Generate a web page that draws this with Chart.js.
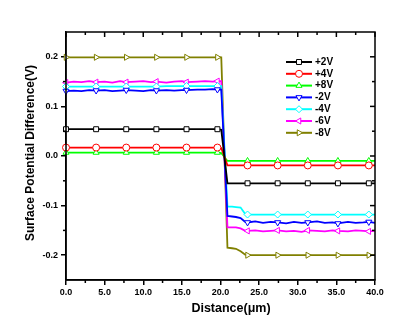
<!DOCTYPE html>
<html>
<head>
<meta charset="utf-8">
<script src="https://cdn.jsdelivr.net/npm/chart.js@4/dist/chart.umd.min.js"></script>
<style>
  body { margin: 0; background: #fff; }
  #wrap { width: 397px; height: 323px; }
</style>
</head>
<body>
<div id="wrap"><canvas id="myChart" width="397" height="323"></canvas></div>
<script>
// data
let distance = [0, 1, 2, 3, 3.9, 5, 6, 7, 7.8, 9, 10, 11, 11.7, 13, 14, 15, 15.6, 17, 18, 19, 19.6,
  20.1, 20.9, 21.5, 22.0, 22.6, 23.2, 23.5,
  24.5, 25.5, 26.5, 27.4, 28.5, 29.5, 30.5, 31.3, 32.5, 33.5, 34.5, 35.2, 36.5, 37.5, 38.5, 39.2, 40];
let markerAt = [0, 3.9, 7.8, 11.7, 15.6, 19.6, 23.5, 27.4, 31.3, 35.2, 39.2];

let plus2V = [0.054, 0.054, 0.054, 0.054, 0.054, 0.054, 0.054, 0.054, 0.054, 0.054, 0.054, 0.054, 0.054, 0.054, 0.054, 0.054, 0.054, 0.054, 0.054, 0.054, 0.054,
  0.053, -0.055, -0.055, -0.055, -0.055, -0.055, -0.055,
  -0.055, -0.055, -0.055, -0.055, -0.055, -0.055, -0.055, -0.055, -0.055, -0.055, -0.055, -0.055, -0.055, -0.055, -0.055, -0.055, -0.055];
let plus4V = [0.017, 0.017, 0.017, 0.017, 0.017, 0.017, 0.017, 0.017, 0.017, 0.017, 0.017, 0.017, 0.017, 0.017, 0.017, 0.017, 0.017, 0.017, 0.017, 0.017, 0.017,
  0.016, -0.019, -0.019, -0.019, -0.019, -0.019, -0.019,
  -0.019, -0.019, -0.019, -0.019, -0.019, -0.019, -0.019, -0.019, -0.019, -0.019, -0.019, -0.019, -0.019, -0.019, -0.019, -0.019, -0.019];
let plus8V = [0.007, 0.007, 0.007, 0.007, 0.007, 0.007, 0.007, 0.007, 0.007, 0.007, 0.007, 0.007, 0.007, 0.007, 0.007, 0.007, 0.007, 0.007, 0.007, 0.007, 0.007,
  0.006, -0.010, -0.010, -0.010, -0.010, -0.010, -0.010,
  -0.010, -0.010, -0.010, -0.010, -0.010, -0.010, -0.010, -0.010, -0.010, -0.010, -0.010, -0.010, -0.010, -0.010, -0.010, -0.010, -0.010];
let minus2V = [0.131, 0.132, 0.131, 0.133, 0.132, 0.133, 0.131, 0.132, 0.133, 0.132, 0.131, 0.133, 0.132, 0.133, 0.132, 0.133, 0.133, 0.134, 0.134, 0.135, 0.134,
  0.134, -0.121, -0.122, -0.123, -0.125, -0.133, -0.134,
  -0.132, -0.135, -0.133, -0.134, -0.136, -0.133, -0.135, -0.134, -0.132, -0.135, -0.134, -0.136, -0.133, -0.135, -0.134, -0.133, -0.135];
let minus4V = [0.140, 0.140, 0.140, 0.140, 0.140, 0.140, 0.140, 0.140, 0.140, 0.140, 0.140, 0.140, 0.140, 0.141, 0.141, 0.141, 0.141, 0.141, 0.141, 0.141, 0.141,
  0.141, -0.102, -0.102, -0.103, -0.104, -0.117, -0.118,
  -0.118, -0.118, -0.118, -0.118, -0.118, -0.118, -0.118, -0.118, -0.118, -0.118, -0.118, -0.118, -0.118, -0.118, -0.118, -0.118, -0.118];
let minus6V = [0.148, 0.150, 0.149, 0.151, 0.149, 0.150, 0.148, 0.151, 0.149, 0.150, 0.151, 0.149, 0.150, 0.148, 0.150, 0.151, 0.149, 0.150, 0.151, 0.150, 0.151,
  0.151, -0.144, -0.144, -0.144, -0.146, -0.151, -0.151,
  -0.150, -0.152, -0.151, -0.150, -0.152, -0.151, -0.153, -0.150, -0.151, -0.152, -0.150, -0.151, -0.152, -0.150, -0.151, -0.152, -0.151];
let minus8V = [0.199, 0.199, 0.199, 0.199, 0.199, 0.199, 0.199, 0.199, 0.199, 0.199, 0.199, 0.199, 0.199, 0.199, 0.199, 0.199, 0.199, 0.199, 0.199, 0.199, 0.199,
  0.199, -0.185, -0.186, -0.187, -0.192, -0.199, -0.200,
  -0.200, -0.200, -0.200, -0.200, -0.200, -0.200, -0.200, -0.200, -0.200, -0.200, -0.200, -0.200, -0.200, -0.200, -0.200, -0.200, -0.200];

let seriesNames = ["+2V", "+4V", "+8V", "-2V", "-4V", "-6V", "-8V"];
let seriesValues = [plus2V, plus4V, plus8V, minus2V, minus4V, minus6V, minus8V];
let xTicks = [0, 5, 10, 15, 20, 25, 30, 35, 40];
let yTicks = [-0.2, -0.1, 0.0, 0.1, 0.2];
let xTitulo = "Distance(\u03bcm)";
let yTitulo = "Surface Potential Difference(V)";

let colores = ["#000000", "#ff0000", "#00ff00", "#0000ff", "#00ffff", "#ff00ff", "#808000"];
let estilos = [
  { style: "rect", rot: 0 },
  { style: "circle", rot: 0 },
  { style: "triangle", rot: 0 },
  { style: "triangle", rot: 180 },
  { style: "rectRot", rot: 0 },
  { style: "triangle", rot: -90 },
  { style: "triangle", rot: 90 }
];

const FONT = "'Liberation Sans', Arial, sans-serif";

function dibujaMarcas(ctx, scale, values, len, side) {
  const a = scale.chart.chartArea;
  values.forEach((v) => {
    const p = scale.getPixelForValue(v);
    ctx.beginPath();
    if (side == "top") { ctx.moveTo(p, a.top); ctx.lineTo(p, a.top + len); }
    if (side == "bottom") { ctx.moveTo(p, a.bottom); ctx.lineTo(p, a.bottom + len); }
    if (side == "left") { ctx.moveTo(a.left, p); ctx.lineTo(a.left - len, p); }
    if (side == "right") { ctx.moveTo(a.right, p); ctx.lineTo(a.right - len, p); }
    ctx.stroke();
  });
}

// frame, mirrored ticks, minor ticks, axis titles and the legend box
const marco = {
  id: "marco",
  afterDraw(chart) {
    const ctx = chart.ctx;
    const a = chart.chartArea;
    const xs = chart.scales.x, ys = chart.scales.y;
    ctx.save();
    ctx.strokeStyle = "#000";
    ctx.lineWidth = 1.5;
    ctx.strokeRect(a.left, a.top, a.right - a.left, a.bottom - a.top);
    let xMinor = [2.5, 7.5, 12.5, 17.5, 22.5, 27.5, 32.5, 37.5];
    let yMinor = [-0.15, -0.05, 0.05, 0.15];
    dibujaMarcas(ctx, xs, xTicks, 5, "top");
    dibujaMarcas(ctx, xs, xMinor, 3, "top");
    dibujaMarcas(ctx, xs, xMinor, 3, "bottom");
    dibujaMarcas(ctx, ys, yTicks, 5, "right");
    dibujaMarcas(ctx, ys, yMinor, 3, "right");
    dibujaMarcas(ctx, ys, yMinor, 3, "left");

    // axis titles
    ctx.fillStyle = "#000";
    ctx.textAlign = "center";
    ctx.textBaseline = "middle";
    ctx.font = "bold 12.5px " + FONT;
    ctx.fillText(xTitulo, 231, 309);
    ctx.save();
    ctx.translate(31, 153);
    ctx.rotate(-Math.PI / 2);
    ctx.font = "bold 12px " + FONT;
    ctx.fillText(yTitulo, 0, 0);
    ctx.restore();

    // legend
    ctx.textAlign = "left";
    chart.data.datasets.forEach((ds, i) => {
      const y = 62 + i * 11.8;
      ctx.strokeStyle = ds.borderColor;
      ctx.lineWidth = 2;
      ctx.beginPath();
      ctx.moveTo(286, y);
      ctx.lineTo(312, y);
      ctx.stroke();
      ctx.fillStyle = "#fff";
      ctx.lineWidth = 1;
      Chart.helpers.drawPoint(ctx, { pointStyle: estilos[i].style, rotation: estilos[i].rot, radius: 3.5, borderWidth: 1 }, 299, y);
      ctx.fillStyle = "#000";
      ctx.font = "bold 10px " + FONT;
      ctx.fillText(ds.label, 315, y);
    });
    ctx.restore();
  }
};

const datasets = seriesNames.map((nombre, i) => ({
  label: nombre,
  data: distance.map((d, j) => ({ x: d, y: seriesValues[i][j] })),
  borderColor: colores[i],
  backgroundColor: "#ffffff",
  borderWidth: 1.8,
  pointStyle: estilos[i].style,
  rotation: estilos[i].rot,
  pointRadius: (c) => markerAt.includes(distance[c.dataIndex]) ? 3.5 : 0,
  pointBorderWidth: 1,
  pointBackgroundColor: "#ffffff",
  pointBorderColor: colores[i],
  tension: 0,
  clip: false
}));

const config = {
  type: "line",
  data: { datasets },
  plugins: [marco],
  options: {
    responsive: false,
    animation: false,
    layout: { padding: { top: 32, right: 22, left: 0, bottom: 0 } },
    plugins: { legend: { display: false }, tooltip: { enabled: false } },
    scales: {
      x: {
        type: "linear",
        min: 0,
        max: 40,
        afterBuildTicks: (s) => { s.ticks = xTicks.map((v) => ({ value: v })); },
        afterFit: (s) => { s.height = 43; },
        grid: { display: true, drawOnChartArea: false, drawTicks: true, tickLength: 5, color: "#000", lineWidth: 1.5 },
        border: { display: true, color: "#000", width: 1.5 },
        ticks: {
          color: "#000",
          padding: 2,
          maxRotation: 0,
          font: { family: FONT, size: 9, weight: "bold" },
          callback: (v) => Number(v).toFixed(1)
        }
      },
      y: {
        min: -0.25,
        max: 0.25,
        afterBuildTicks: (s) => { s.ticks = yTicks.map((v) => ({ value: v })); },
        afterFit: (s) => { s.width = 66; },
        grid: { display: true, drawOnChartArea: false, drawTicks: true, tickLength: 5, color: "#000", lineWidth: 1.5 },
        border: { display: true, color: "#000", width: 1.5 },
        ticks: {
          color: "#000",
          padding: 3,
          font: { family: FONT, size: 9, weight: "bold" },
          callback: (v) => Number(v).toFixed(1)
        }
      }
    }
  }
};

var myChart = new Chart(document.getElementById("myChart"), config);
</script>
</body>
</html>
